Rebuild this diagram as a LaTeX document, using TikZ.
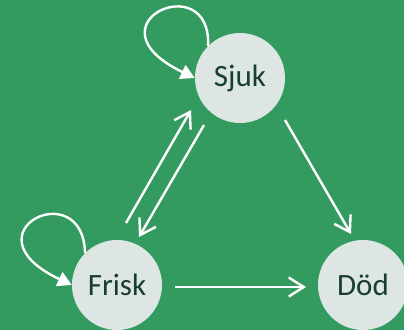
\documentclass[tikz,border=0pt]{standalone}
\usepackage{fontspec}
\setmainfont{Carlito}
\usetikzlibrary{arrows.meta,calc}
\definecolor{bggreen}{RGB}{52,155,96}
\definecolor{statefill}{RGB}{222,230,227}
\definecolor{statetext}{RGB}{24,62,48}
\tikzset{
  state/.style={circle,fill=statefill,minimum size=90pt,inner sep=0pt,text=statetext,font=\fontsize{31}{36}\selectfont},
  trans/.style={draw=white,line width=2.4pt,-{Straight Barb[length=15pt,width=19pt,line width=2.4pt]}},
  selfloop/.style={draw=white,line width=2.4pt,-{Triangle[length=14pt,width=15pt]}}
}
\begin{document}
\begin{tikzpicture}[x=1pt,y=-1pt]
\fill[bggreen] (0,0) rectangle (404,330);
\useasboundingbox (0,0) rectangle (404,330);
\node[state] (sjuk) at (240,78) {Sjuk};
\node[state] (frisk) at (117,285) {Frisk};
\node[state] (dod) at (363,285) {Död};
\draw[selfloop] (sjuk.135) .. controls +(4,-80) and +(-112,-54) .. (sjuk.west);
\draw[selfloop] (frisk.135) .. controls +(-2,-80) and +(-110,-52) .. (frisk.west);
\draw[trans] ($(frisk)+(9,-62)$) -- ($(sjuk)+(-49,32)$);
\draw[trans] ($(sjuk)+(-36,47)$) -- ($(frisk)+(22,-48)$);
\draw[trans] ($(sjuk)+(45,42)$) -- ($(dod)+(-12,-51)$);
\draw[trans] ($(frisk)+(58,2)$) -- ($(dod)+(-57,2)$);
\end{tikzpicture}
\end{document}
